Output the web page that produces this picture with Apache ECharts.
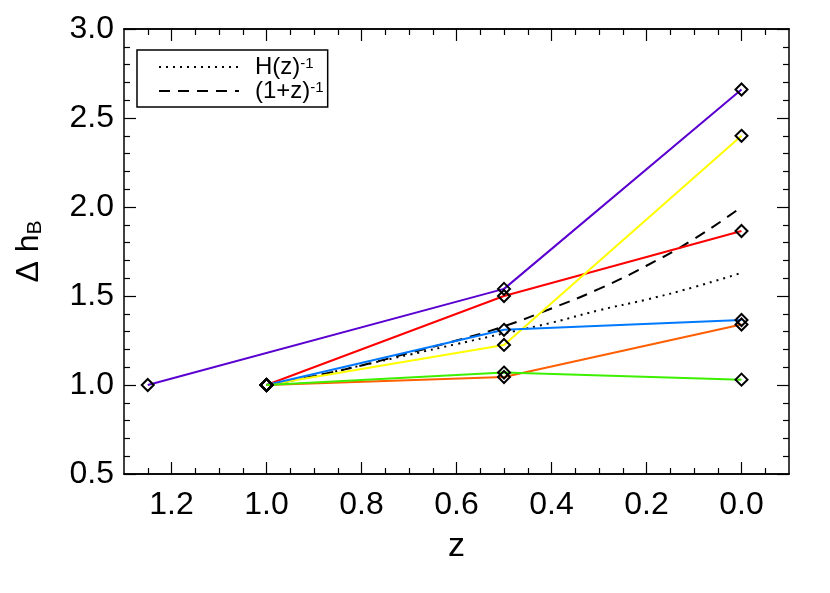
<!DOCTYPE html>
<html>
<head>
<meta charset="utf-8">
<script src="https://cdn.jsdelivr.net/npm/echarts@6/dist/echarts.min.js"></script>
<style>
  html, body { margin: 0; padding: 0; background: #fff; }
  #chart { width: 830px; height: 593px; }
</style>
</head>
<body>
<div id="chart"></div>
<script>
// redshift points of the simulations
var zPurple = [1.25, 0.5, 0.0];
var hPurple = [1.0, 1.54, 2.66];
var zOthers = [1.0, 0.5, 0.0];
var hRed    = [1.0, 1.50, 1.865];
var hYellow = [1.0, 1.225, 2.40];
var hBlue   = [1.0, 1.31, 1.365];
var hOrange = [1.0, 1.045, 1.34];
var hGreen  = [1.0, 1.07, 1.03];

// reference curves
var zCurve   = [1.0, 0.9, 0.8, 0.7, 0.6, 0.5, 0.4, 0.3, 0.2, 0.1, 0.0];
var hHubble  = [1.0, 1.05, 1.11, 1.17, 1.23, 1.29, 1.35, 1.42, 1.48, 1.55, 1.63];
var hScale   = [1.0, 1.05, 1.11, 1.18, 1.25, 1.33, 1.43, 1.54, 1.67, 1.82, 2.0];

// tick positions
var xMajor = [1.2, 1.0, 0.8, 0.6, 0.4, 0.2, 0.0];
var xMinor = [1.25, 1.15, 1.1, 1.05, 0.95, 0.9, 0.85, 0.75, 0.7, 0.65, 0.55, 0.5, 0.45,
              0.35, 0.3, 0.25, 0.15, 0.1, 0.05, -0.05];

function pairs(xs, ys) {
    return xs.map(function (x, i) { return [x, ys[i]]; });
}

var font = 'Liberation Sans, Arial, sans-serif';

function simSeries(name, color, xs, ys) {
    return {
        name: name,
        type: 'line',
        data: pairs(xs, ys),
        symbol: 'diamond',
        symbolSize: 12,
        lineStyle: { color: color, width: 2 },
        itemStyle: { color: 'rgba(0,0,0,0)', borderColor: '#000', borderWidth: 2 },
        z: 3
    };
}

function xTickAxis(pos, values, len, labels) {
    return {
        type: 'value', position: pos, min: -0.1, max: 1.3, inverse: true,
        axisLine: { show: true, onZero: false, lineStyle: { color: '#000', width: 1.5 } },
        axisTick: { show: true, inside: true, length: len, customValues: values,
                    lineStyle: { color: '#000', width: 1.2 } },
        axisLabel: labels ? {
            show: true, customValues: values, margin: 15,
            fontSize: 32, color: '#000', fontFamily: font,
            formatter: function (v) { return v.toFixed(1); }
        } : { show: false },
        splitLine: { show: false }
    };
}

function yTickAxis(pos, labels) {
    return {
        type: 'value', position: pos, min: 0.5, max: 3.0, interval: 0.5,
        axisLine: { show: true, onZero: false, lineStyle: { color: '#000', width: 1.5 } },
        axisTick: { show: true, inside: true, length: 12, lineStyle: { color: '#000', width: 1.2 } },
        minorTick: { show: true, splitNumber: 5, length: 6, lineStyle: { color: '#000', width: 1.2 } },
        axisLabel: labels ? {
            show: true, margin: 10, fontSize: 32, color: '#000', fontFamily: font,
            formatter: function (v) { return v.toFixed(1); }
        } : { show: false },
        splitLine: { show: false }
    };
}

var myChart = echarts.init(document.getElementById('chart'));

var xAxes = [
    xTickAxis('bottom', xMajor, 12, true),
    xTickAxis('bottom', xMinor, 6, false),
    xTickAxis('top', xMajor, 12, false),
    xTickAxis('top', xMinor, 6, false)
];
xAxes[0].name = 'z';
xAxes[0].nameLocation = 'middle';
xAxes[0].nameGap = 56;
xAxes[0].nameTextStyle = { fontSize: 34, color: '#000', fontFamily: font };

var yAxes = [yTickAxis('left', true), yTickAxis('right', false)];
yAxes[0].name = 'Δ h{sub|B}';
yAxes[0].nameLocation = 'middle';
yAxes[0].nameGap = 78;
yAxes[0].nameTextStyle = {
    fontSize: 32, color: '#000', fontFamily: font,
    rich: { sub: { fontSize: 21, color: '#000', fontFamily: font, verticalAlign: 'bottom', padding: [12, 0, 0, 0] } }
};

var option = {
    animation: false,
    backgroundColor: '#fff',
    grid: { left: 124, right: 41, top: 29, bottom: 119, containLabel: false },
    xAxis: xAxes,
    yAxis: yAxes,
    legend: {
        left: 137, top: 50,
        orient: 'vertical',
        data: ['H(z)^-1', '(1+z)^-1'],
        borderColor: '#000', borderWidth: 1.5, borderRadius: 0,
        padding: [5, 4, 4, 21],
        itemWidth: 80, itemHeight: 14, itemGap: 0,
        itemStyle: { color: 'rgba(0,0,0,0)', borderWidth: 0 },
        formatter: function (name) {
            return name.replace('^-1', '{sup|-1}');
        },
        textStyle: {
            fontSize: 24, color: '#000', fontFamily: font, padding: [0, 0, 0, 11],
            lineHeight: 22,
            rich: { sup: { fontSize: 15, color: '#000', fontFamily: font, lineHeight: 22, verticalAlign: 'top' } }
        }
    },
    series: [
        {
            name: 'H(z)^-1', type: 'line', data: pairs(zCurve, hHubble), smooth: true,
            symbol: 'none', lineStyle: { color: '#000', width: 2, type: [2, 5] }, itemStyle: { color: '#000' }, z: 2
        },
        {
            name: '(1+z)^-1', type: 'line', data: pairs(zCurve, hScale), smooth: true,
            symbol: 'none', lineStyle: { color: '#000', width: 2, type: [11, 8] }, itemStyle: { color: '#000' }, z: 2
        },
        simSeries('purple', '#5a00d0', zPurple, hPurple),
        simSeries('red', '#ff0000', zOthers, hRed),
        simSeries('yellow', '#ffff00', zOthers, hYellow),
        simSeries('blue', '#0078ff', zOthers, hBlue),
        simSeries('orange', '#ff5f00', zOthers, hOrange),
        simSeries('green', '#3cf000', zOthers, hGreen)
    ]
};

myChart.setOption(option);
</script>
</body>
</html>
